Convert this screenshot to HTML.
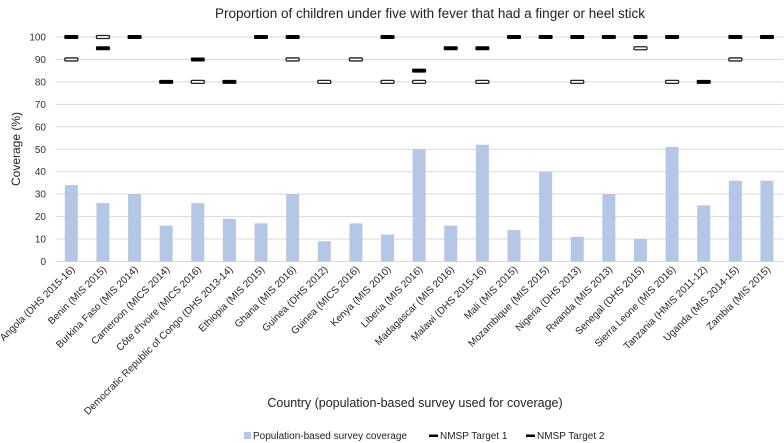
<!DOCTYPE html>
<html><head><meta charset="utf-8">
<style>
html,body{margin:0;padding:0;background:#fff;}
svg{display:block;font-family:"Liberation Sans",sans-serif;}
</style></head>
<body>
<svg id="chart" width="784" height="443" viewBox="0 0 784 443">
<text x="430" y="18" font-size="13.5" text-anchor="middle" fill="#222">Proportion of children under five with fever that had a finger or heel stick</text>
<g id="grid"></g>
<g id="yticks"></g>
<g id="bars"></g>
<g id="targets"></g>
<g id="xlabels"></g>
<text transform="translate(20,149) rotate(-90)" font-size="12" text-anchor="middle" fill="#222">Coverage (%)</text>
<text x="415" y="407" font-size="12.5" text-anchor="middle" fill="#222">Country (population-based survey used for coverage)</text>
<g>
<g><rect x="244" y="432" width="7" height="7" fill="#b4c7e7"/><text x="253" y="439" font-size="10" fill="#222">Population-based survey coverage</text></g>
<g><rect x="429" y="434.5" width="9" height="2.5" fill="#000"/><text x="440" y="439" font-size="10" fill="#222">NMSP Target 1</text></g>
<g><rect x="526" y="434.5" width="9" height="2.5" fill="#000"/><text x="537" y="439" font-size="10" fill="#222">NMSP Target 2</text></g>
</g>
</svg>
<script>
const categories = ["Angola (DHS 2015-16)","Benin  (MIS 2015)","Burkina Faso  (MIS 2014)","Cameroon  (MICS 2014)","Côte d'Ivoire  (MICS 2016)","Democratic Republic of Congo  (DHS 2013-14)","Ethiopia  (MIS 2015)","Ghana  (MIS 2016)","Guinea  (DHS 2012)","Guinea  (MICS 2016)","Kenya  (MIS 2010)","Liberia  (MIS 2016)","Madagascar  (MIS 2016)","Malawi  (DHS 2015-16)","Mali  (MIS 2015)","Mozambique  (MIS 2015)","Nigeria  (DHS 2013)","Rwanda  (MIS 2013)","Senegal  (DHS 2015)","Sierra Leone  (MIS 2016)","Tanzania  (HMIS 2011-12)","Uganda  (MIS 2014-15)","Zambia  (MIS 2015)"];
const coverage = [34,26,30,16,26,19,17,30,9,17,12,50,16,52,14,40,11,30,10,51,25,36,36];
const target1 = [100,95,100,80,90,80,100,100,null,null,100,85,95,95,100,100,100,100,100,100,80,100,100];
const target2 = [90,100,null,null,80,null,null,90,80,90,80,80,null,80,null,null,80,null,95,80,null,90,null];
const yTicks = [0,10,20,30,40,50,60,70,80,90,100];

const NS="http://www.w3.org/2000/svg";
const x0=55.5, step=31.62, yTop=37, yBot=261.5;
const xC=i=>x0+step*(i+0.5);
const yS=v=>yBot-(v/100)*(yBot-yTop);
function mk(tag,attrs,parent){const e=document.createElementNS(NS,tag);for(const k in attrs)e.setAttribute(k,attrs[k]);parent.appendChild(e);return e;}
const grid=document.getElementById('grid'),yt=document.getElementById('yticks'),bars=document.getElementById('bars'),tg=document.getElementById('targets'),xl=document.getElementById('xlabels');
yTicks.forEach(v=>{
  const l=mk('line',{x1:x0,x2:783,y1:yS(v),y2:yS(v),stroke:'#d9d9d9','stroke-width':1},grid);
  
  
  const t=mk('text',{x:46,y:yS(v)+3.5,'font-size':10,'text-anchor':'end',fill:'#333'},yt);
  t.textContent=v;
  
  
});
categories.forEach((c,i)=>{
  const cx=xC(i);
  const b=mk('rect',{x:cx-6.5,y:yS(coverage[i]),width:13,height:yS(0)-yS(coverage[i]),fill:'#b4c7e7'},bars);
  
  
  if(target1[i]!=null){
    const m=mk('rect',{x:cx-7,y:yS(target1[i])-2,width:14,height:4,fill:'#000',rx:1},tg);
    
    
  }
  if(target2[i]!=null){
    const m=mk('rect',{x:cx-6.5,y:yS(target2[i])-1.5,width:13,height:3,fill:'#fff',stroke:'#222','stroke-width':1.3,rx:1},tg);
    
    
  }
  const t=mk('text',{transform:`translate(${cx+4},270) rotate(-45)`,'font-size':10,'text-anchor':'end',fill:'#222'},xl);
  t.textContent=c;
  
  
});
</script>
</body></html>
